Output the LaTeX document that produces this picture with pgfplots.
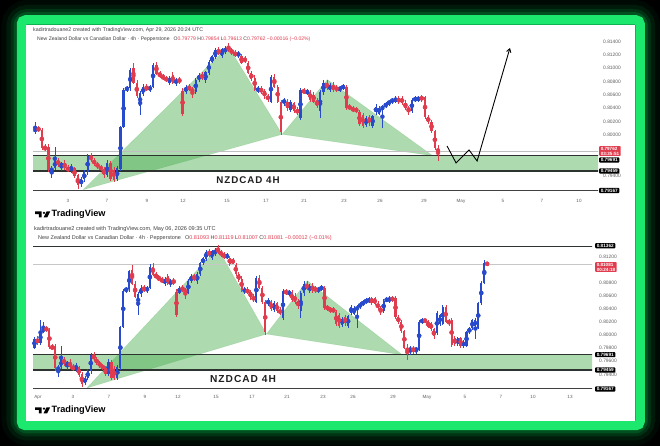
\documentclass[border=0pt]{standalone}
\usepackage{pgfplots}
\pgfplotsset{compat=1.18}
\usepackage{pgfplotstable}
\usepackage{fontspec}
\setmainfont{Liberation Sans}
\newfontfamily\lblfont[LetterSpace=10]{Liberation Sans}
\usetikzlibrary{arrows.meta}
\definecolor{cblue}{RGB}{40,75,205}
\definecolor{cred}{RGB}{225,60,78}
\definecolor{pgreen}{RGB}{76,175,80}
\definecolor{neon}{RGB}{28,232,110}
\definecolor{glow}{RGB}{0,150,60}
\definecolor{zline}{RGB}{45,52,48}
\definecolor{tgrey}{RGB}{95,95,95}

\pgfplotstableread{
t o h l c
-0.17 0.7980 0.7996 0.7978 0.7994
0.17 0.7987 0.8022 0.7985 0.8005
0.33 0.8005 0.8020 0.8002 0.8010
1.17 0.7946 0.7953 0.7935 0.7950
1.33 0.7950 0.7982 0.7947 0.7962
1.67 0.7952 0.7960 0.7946 0.7958
2.17 0.7947 0.7956 0.7943 0.7953
2.67 0.7926 0.7937 0.7922 0.7934
2.83 0.7934 0.7947 0.7930 0.7944
3.00 0.7944 0.7972 0.7940 0.7969
4.00 0.7940 0.7962 0.7937 0.7958
4.50 0.7934 0.7953 0.7931 0.7950
4.67 0.7949 0.8014 0.7946 0.8012
4.83 0.8012 0.8070 0.8010 0.8068
5.00 0.8068 0.8074 0.8064 0.8071
5.17 0.8070 0.8100 0.8066 0.8098
5.67 0.8044 0.8066 0.8030 0.8063
5.83 0.8062 0.8076 0.8058 0.8072
6.17 0.8068 0.8075 0.8065 0.8072
6.33 0.8072 0.8108 0.8070 0.8105
7.17 0.8078 0.8089 0.8075 0.8086
7.50 0.8078 0.8086 0.8074 0.8083
8.00 0.8065 0.8075 0.8062 0.8072
8.50 0.8065 0.8086 0.8062 0.8082
8.67 0.8082 0.8093 0.8080 0.8090
9.00 0.8082 0.8096 0.8078 0.8094
9.17 0.8093 0.8112 0.8090 0.8110
9.33 0.8110 0.8120 0.8108 0.8118
9.50 0.8117 0.8130 0.8114 0.8128
9.83 0.8118 0.8131 0.8115 0.8129
10.00 0.8124 0.8134 0.8121 0.8130
10.67 0.8119 0.8126 0.8116 0.8123
11.67 0.8066 0.8073 0.8063 0.8070
12.33 0.8050 0.8090 0.8048 0.8087
13.00 0.8048 0.8056 0.8044 0.8053
13.33 0.8038 0.8052 0.8035 0.8049
13.83 0.8025 0.8070 0.8022 0.8067
14.17 0.8063 0.8069 0.8060 0.8066
14.83 0.8036 0.8068 0.8026 0.8064
15.00 0.8064 0.8083 0.8060 0.8078
15.33 0.8068 0.8078 0.8064 0.8075
15.83 0.8067 0.8074 0.8064 0.8072
16.00 0.8070 0.8077 0.8067 0.8074
17.17 0.8015 0.8028 0.8012 0.8025
17.50 0.8014 0.8030 0.8011 0.8028
17.67 0.8034 0.8046 0.8030 0.8042
17.83 0.8032 0.8044 0.8030 0.8041
18.00 0.8038 0.8045 0.8010 0.8043
18.17 0.8043 0.8050 0.8040 0.8047
18.33 0.8047 0.8053 0.8044 0.8050
18.50 0.8050 0.8056 0.8047 0.8053
18.67 0.8050 0.8058 0.8048 0.8056
19.50 0.8036 0.8055 0.8033 0.8052
19.67 0.8052 0.8058 0.8050 0.8055
19.83 0.8052 0.8059 0.8049 0.8057
21.00 0.7976 0.7982 0.7969 0.7979
21.33 0.7976 0.7981 0.7971 0.7979
21.50 0.7977 0.8022 0.7975 0.8020
21.67 0.8019 0.8026 0.8016 0.8023
22.50 0.8002 0.8036 0.7999 0.8033
22.67 0.8017 0.8032 0.8014 0.8030
22.83 0.8017 0.8046 0.8015 0.8043
23.67 0.7985 0.7997 0.7982 0.7995
24.00 0.7983 0.7992 0.7980 0.7989
24.17 0.7983 0.8006 0.7981 0.8004
24.33 0.8004 0.8012 0.8001 0.8010
24.50 0.8010 0.8025 0.8007 0.8023
24.67 0.8013 0.8026 0.7993 0.8023
24.83 0.8010 0.8051 0.8008 0.8049
25.00 0.8049 0.8082 0.8046 0.8080
25.17 0.8080 0.8115 0.8078 0.8110
}\up

\pgfplotstableread{
t o h l c
0.00 0.7994 0.7998 0.7984 0.7987
0.50 0.8010 0.8014 0.8004 0.8007
0.67 0.8007 0.8010 0.7978 0.7981
0.83 0.7981 0.7986 0.7976 0.7979
1.00 0.7982 0.7986 0.7944 0.7948
1.50 0.7962 0.7966 0.7952 0.7955
1.83 0.7958 0.7962 0.7948 0.7950
2.00 0.7950 0.7955 0.7944 0.7947
2.33 0.7950 0.7952 0.7935 0.7938
2.50 0.7940 0.7942 0.7919 0.7925
3.17 0.7969 0.7973 0.7960 0.7962
3.33 0.7962 0.7966 0.7953 0.7957
3.50 0.7957 0.7960 0.7949 0.7952
3.67 0.7952 0.7955 0.7946 0.7949
3.83 0.7949 0.7952 0.7936 0.7940
4.17 0.7958 0.7961 0.7931 0.7934
4.33 0.7948 0.7952 0.7930 0.7933
5.33 0.8100 0.8108 0.8076 0.8078
5.50 0.8078 0.8082 0.8056 0.8058
6.00 0.8072 0.8076 0.8066 0.8068
6.50 0.8105 0.8110 0.8090 0.8092
6.67 0.8092 0.8096 0.8086 0.8088
6.83 0.8088 0.8092 0.8083 0.8085
7.00 0.8085 0.8089 0.8079 0.8082
7.33 0.8090 0.8094 0.8076 0.8078
7.67 0.8083 0.8087 0.8077 0.8080
7.83 0.8066 0.8070 0.8028 0.8031
8.17 0.8072 0.8076 0.8066 0.8069
8.33 0.8069 0.8072 0.8055 0.8065
8.83 0.8090 0.8094 0.8083 0.8085
9.67 0.8128 0.8132 0.8120 0.8122
10.17 0.8132 0.8138 0.8124 0.8127
10.33 0.8127 0.8131 0.8120 0.8123
10.50 0.8123 0.8127 0.8117 0.8120
10.83 0.8118 0.8121 0.8106 0.8108
11.00 0.8115 0.8118 0.8108 0.8110
11.17 0.8108 0.8111 0.8091 0.8093
11.33 0.8093 0.8096 0.8081 0.8084
11.50 0.8086 0.8090 0.8066 0.8068
11.83 0.8070 0.8073 0.8062 0.8064
12.00 0.8066 0.8069 0.8054 0.8058
12.17 0.8058 0.8062 0.8050 0.8054
12.50 0.8087 0.8092 0.8070 0.8072
12.67 0.8072 0.8075 0.8048 0.8050
12.83 0.8050 0.8053 0.8000 0.8004
13.17 0.8050 0.8054 0.8036 0.8040
13.50 0.8048 0.8050 0.8033 0.8036
13.67 0.8037 0.8042 0.8030 0.8034
14.00 0.8067 0.8070 0.8061 0.8064
14.33 0.8065 0.8068 0.8050 0.8053
14.50 0.8060 0.8064 0.8048 0.8050
14.67 0.8052 0.8055 0.8040 0.8044
15.17 0.8078 0.8082 0.8068 0.8071
15.50 0.8075 0.8080 0.8064 0.8067
15.67 0.8072 0.8075 0.8064 0.8067
16.17 0.8072 0.8075 0.8038 0.8041
16.33 0.8043 0.8046 0.8037 0.8040
16.50 0.8040 0.8043 0.8034 0.8037
16.67 0.8040 0.8042 0.8033 0.8035
16.83 0.8035 0.8038 0.8013 0.8016
17.00 0.8030 0.8033 0.8011 0.8014
17.33 0.8027 0.8030 0.8014 0.8018
18.83 0.8056 0.8058 0.8046 0.8049
19.00 0.8056 0.8058 0.8045 0.8048
19.17 0.8048 0.8052 0.8038 0.8041
19.33 0.8041 0.8044 0.8030 0.8036
20.00 0.8057 0.8060 0.8050 0.8053
20.17 0.8057 0.8059 0.8024 0.8027
20.33 0.8027 0.8030 0.8016 0.8020
20.50 0.8020 0.8022 0.8003 0.8006
20.67 0.8006 0.8008 0.7978 0.7980
20.83 0.79779 0.79854 0.79613 0.79762
21.17 0.7979 0.7983 0.7970 0.7976
21.83 0.8023 0.8025 0.8018 0.8021
22.00 0.8021 0.8023 0.8010 0.8012
22.17 0.8018 0.8020 0.8006 0.8008
22.33 0.8008 0.8010 0.7994 0.7998
23.00 0.8043 0.8045 0.8018 0.8020
23.17 0.8022 0.8025 0.8014 0.8017
23.33 0.8023 0.8026 0.7981 0.7984
23.50 0.7995 0.7998 0.7982 0.7985
23.83 0.7995 0.7997 0.7980 0.7983
25.33 0.81093 0.81119 0.81067 0.81081
}\down

\newcommand{\candles}[2]{%
  \addplot[cblue, forget plot, only marks, mark=none, restrict x to domain=-1:#2,
    error bars/.cd, y dir=both, y explicit, error mark=none,
    error bar style={line width=0.5bp, color=cblue}]
    table[x=t, y expr={(\thisrow{h}+\thisrow{l})/2}, y error expr={(\thisrow{h}-\thisrow{l})/2}] {\up};
  \addplot[cred, forget plot, only marks, mark=none, restrict x to domain=-1:#2,
    error bars/.cd, y dir=both, y explicit, error mark=none,
    error bar style={line width=0.5bp, color=cred}]
    table[x=t, y expr={(\thisrow{h}+\thisrow{l})/2}, y error expr={(\thisrow{h}-\thisrow{l})/2}] {\down};
  \addplot[cblue, forget plot, only marks, mark=none, restrict x to domain=-1:#2,
    error bars/.cd, y dir=both, y explicit, error mark=none,
    error bar style={line width=#1, color=cblue}]
    table[x=t, y expr={(\thisrow{o}+\thisrow{c})/2}, y error expr={abs(\thisrow{c}-\thisrow{o})/2}] {\up};
  \addplot[cred, forget plot, only marks, mark=none, restrict x to domain=-1:#2,
    error bars/.cd, y dir=both, y explicit, error mark=none,
    error bar style={line width=#1, color=cred}]
    table[x=t, y expr={(\thisrow{o}+\thisrow{c})/2}, y error expr={abs(\thisrow{c}-\thisrow{o})/2}] {\down};
}
\newcommand{\harmonic}{%
  \addplot[fill=pgreen, fill opacity=0.45, draw=pgreen, draw opacity=0.25, line width=0.4bp] coordinates {(2.78,0.7918) (10.15,0.8133) (12.9,0.8001)} -- cycle;
  \addplot[fill=pgreen, fill opacity=0.45, draw=pgreen, draw opacity=0.25, line width=0.4bp] coordinates {(12.9,0.8001) (15.2,0.8083) (20.55,0.7969)} -- cycle;
  \addplot[fill=pgreen, fill opacity=0.45, draw=none] coordinates {(-1,0.79459) (32,0.79459) (32,0.79691) (-1,0.79691)} -- cycle;
  \addplot[zline, line width=1.3bp] coordinates {(-1,0.79691) (32,0.79691)};
  \addplot[zline, line width=1.3bp] coordinates {(-1,0.79459) (32,0.79459)};
  \addplot[black!75, line width=1bp] coordinates {(-1,0.79167) (32,0.79167)};
}
\newcommand{\tvlogo}[1]{%
  \begin{scope}[yshift=#1]
    \fill[black] (35,{446-211.5}) -- (41.6,{446-211.5}) -- (41.6,{446-217.5}) -- (38.9,{446-217.5}) -- (38.9,{446-214.1}) -- (35,{446-214.1}) -- cycle;
    \fill[black] (44,{446-212.9}) circle (1.3);
    \fill[black] (46.6,{446-211.5}) -- (50.2,{446-211.5}) -- (47.2,{446-217.5}) -- (43.6,{446-217.5}) -- cycle;
    \node[anchor=west, inner sep=0, font=\bfseries\fontsize{9.2}{10}\selectfont] at (51.5,{446-214.6}) {TradingView};
  \end{scope}}
\newcommand{\plab}[2]{\node[anchor=west, inner sep=0, text=tgrey, font=\fontsize{4.9}{5}\selectfont] at (#1) {#2};}
\newcommand{\blab}[2]{\node[anchor=west, fill=black, text=white, inner xsep=1.6, inner ysep=0.9, rounded corners=0.8, font=\bfseries\fontsize{4.7}{5}\selectfont] at (#1) {#2};}

\begin{document}
\begin{tikzpicture}
\begin{scope}[x=1bp,y=1bp]
\useasboundingbox (0,0) rectangle (660,446);
\fill[black] (0,0) rectangle (660,446);
\foreach \w/\o in {40/0.07, 30/0.12, 22/0.2, 16/0.3}{
  \draw[glow, line width=\w bp, opacity=\o, rounded corners=6] (21.5,426) rectangle (640,20.5);
}
\draw[neon, line width=9.5bp, rounded corners=4] (21.5,426) rectangle (640,20.5);
\fill[white] (26,421) rectangle (635,25);
\end{scope}

% ---------- top chart ----------
\begin{axis}[at={(33bp,250bp)}, anchor=south west, scale only axis,
  width=565bp, height=158bp, xmin=0.2188, xmax=28.972, ymin=0.79085, ymax=0.814549,
  hide axis, clip mode=individual]
  \harmonic
  \addplot[black!25, line width=0.4bp] coordinates {(-1,0.79762) (32,0.79762)};
  \candles{2.3bp}{20.9}
  \addplot[black, line width=0.9bp, -{Straight Barb[length=3.5bp,width=4.5bp]}] coordinates {(21.29,0.79835) (21.75,0.7958) (22.41,0.79775) (22.82,0.7961) (24.49,0.81305)};
\end{axis}

% ---------- bottom chart ----------
\begin{axis}[at={(33bp,53bp)}, anchor=south west, scale only axis,
  width=559bp, height=150bp, xmin=-0.2535, xmax=31.239, ymin=0.791031, ymax=0.814108,
  hide axis, clip mode=individual]
  \harmonic
  \addplot[zline, line width=1.2bp] coordinates {(-1,0.81362) (32,0.81362)};
  \addplot[black!22, line width=0.4bp] coordinates {(-1,0.81081) (32,0.81081)};
  \candles{2.1bp}{26}
\end{axis}

\begin{scope}[x=1bp,y=1bp]
% headers
\node[anchor=west, inner sep=0, text=black!75, font=\fontsize{5.3}{6}\selectfont] at (33,{446-30}) {kadirtradouane2 created with TradingView.com, Apr 29, 2026 20:24 UTC};
\node[anchor=west, inner sep=0, text=black!75, font=\fontsize{5.1}{6}\selectfont] at (37,{446-39}) {New Zealand Dollar vs Canadian Dollar · 4h · Pepperstone\hspace{4bp}O\textcolor{cred}{0.79779}\ H\textcolor{cred}{0.79854}\ L\textcolor{cred}{0.79613}\ C\textcolor{cred}{0.79762}\ \textcolor{cred}{−0.00016 (−0.02\%)}};
\node[anchor=west, inner sep=0, text=black!75, font=\fontsize{5.6}{6}\selectfont] at (34,{446-229}) {kadirtradouane2 created with TradingView.com, May 06, 2026 09:35 UTC};
\node[anchor=west, inner sep=0, text=black!75, font=\fontsize{5.5}{6}\selectfont] at (38,{446-238}) {New Zealand Dollar vs Canadian Dollar · 4h · Pepperstone\hspace{4bp}O\textcolor{cred}{0.81093}\ H\textcolor{cred}{0.81119}\ L\textcolor{cred}{0.81007}\ C\textcolor{cred}{0.81081}\ \textcolor{cred}{−0.00012 (−0.01\%)}};

% NZDCAD labels
\node[text=black!88, font=\lblfont\bfseries\fontsize{9.8}{11}\selectfont] at (248,{446-180}) {NZDCAD 4H};
\node[text=black!88, font=\lblfont\bfseries\fontsize{10.2}{11}\selectfont] at (243,{446-379}) {NZDCAD 4H};

% logos
\tvlogo{0}
\tvlogo{-196.5}

% x tick labels
\foreach \x/\l in {68/3,107/7,147/9,183/12,227/15,266/17,304/21,344/23,380/26,424/29,461/May,503/5,542/7,579/10}{
  \node[text=tgrey, inner sep=0, font=\fontsize{4.6}{5}\selectfont] at (\x,{446-201}) {\l};
}
\foreach \x/\l in {38/Apr,73/3,109/7,145/9,178/12,216/15,252/17,287/21,323/23,353/26,393/29,427/May,465/5,501/7,533/10,570/13}{
  \node[text=tgrey, inner sep=0, font=\fontsize{4.6}{5}\selectfont] at (\x,{446-397}) {\l};
}

% price labels top
\plab{603,{446-41.7}}{0.81400}
\plab{603,{446-55}}{0.81200}
\plab{603,{446-68.3}}{0.81000}
\plab{603,{446-81.7}}{0.80800}
\plab{603,{446-95}}{0.80600}
\plab{603,{446-108.3}}{0.80400}
\plab{603,{446-121.7}}{0.80200}
\plab{603,{446-135}}{0.80000}
\plab{603,{446-175.5}}{0.79400}
\node[anchor=west, fill=cred, text=white, inner xsep=1.6, inner ysep=0.8, rounded corners=0.8, align=left, font=\bfseries\fontsize{4.6}{5}\selectfont] at (599,{446-151}) {0.79762\\03:35:51};
\blab{599,{446-160}}{0.79691}
\blab{599,{446-171}}{0.79459}
\blab{599,{446-190.5}}{0.79167}

% price labels bottom
\plab{599,{446-256.7}}{0.81200}
\plab{599,{446-282.7}}{0.80800}
\plab{599,{446-295.7}}{0.80600}
\plab{599,{446-308.7}}{0.80400}
\plab{599,{446-321.7}}{0.80200}
\plab{599,{446-334.7}}{0.80000}
\plab{599,{446-347.5}}{0.79800}
\plab{599,{446-361}}{0.79600}
\plab{599,{446-374.5}}{0.79400}
\blab{595,{446-245.7}}{0.81362}
\node[anchor=west, fill=cred, text=white, inner xsep=1.6, inner ysep=0.8, rounded corners=0.8, align=left, font=\bfseries\fontsize{4.6}{5}\selectfont] at (595,{446-267}) {0.81081\\00:24:18};
\blab{595,{446-354.7}}{0.79691}
\blab{595,{446-370}}{0.79459}
\blab{595,{446-389}}{0.79167}
\end{scope}
\end{tikzpicture}
\end{document}
